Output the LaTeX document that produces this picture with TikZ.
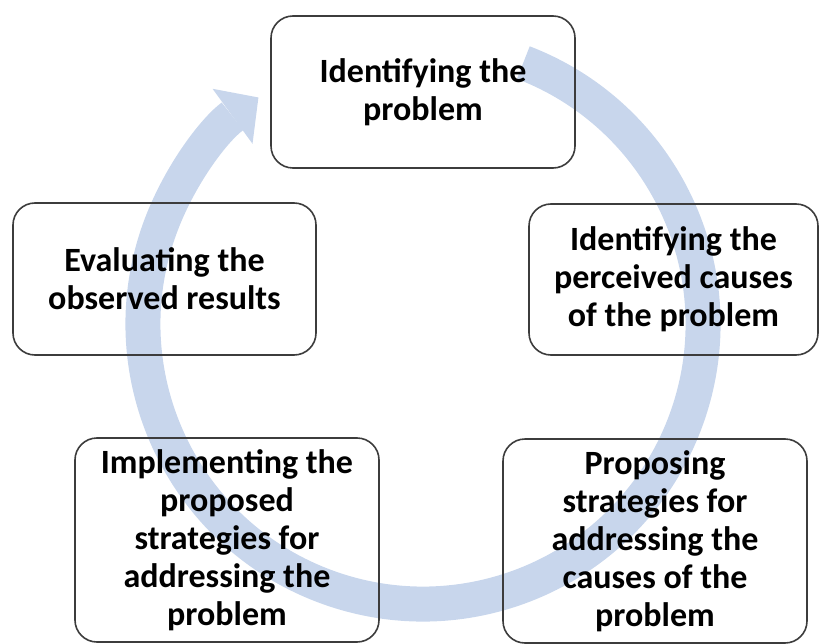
\documentclass[tikz,border=0pt]{standalone}
\usepackage{fontspec}
\setmainfont{Carlito}
\usetikzlibrary{arrows.meta}
\definecolor{ringblue}{RGB}{200,214,236}
\definecolor{boxline}{RGB}{60,60,60}
\begin{document}
\begin{tikzpicture}[x=1pt,y=1pt,
  stepbox/.style={draw=boxline, line width=1.6pt, rounded corners=22pt, align=center,
    font=\fontsize{34}{38}\selectfont\bfseries, inner sep=0pt, text=black},
  ring/.style={draw=ringblue, line width=35pt,
    -{Triangle[length=32pt,width=68pt,line width=0pt]}}]
\useasboundingbox (0,0) rectangle (821,-644);
\coordinate (c) at (423,-324);
\draw[ring] ([shift={(69:280pt)}]c) arc[start angle=69,end angle=-234,radius=280pt];
\node[stepbox, minimum width=304pt, minimum height=152pt] (n1) at (423,-92)
  {Identifying the\\problem};
\node[stepbox, minimum width=289pt, minimum height=151pt] (n2) at (673.5,-279.5)
  {Identifying the\\perceived causes\\of the problem};
\node[stepbox, minimum width=304pt, minimum height=204pt] (n3) at (655,-541)
  {Proposing\\strategies for\\addressing the\\causes of the\\problem};
\node[stepbox, minimum width=304pt, minimum height=204pt] (n4) at (227,-540)
  {Implementing the\\proposed\\strategies for\\addressing the\\problem};
\node[stepbox, minimum width=303pt, minimum height=152pt] (n5) at (164.5,-279)
  {Evaluating the\\observed results};
\end{tikzpicture}
\end{document}
